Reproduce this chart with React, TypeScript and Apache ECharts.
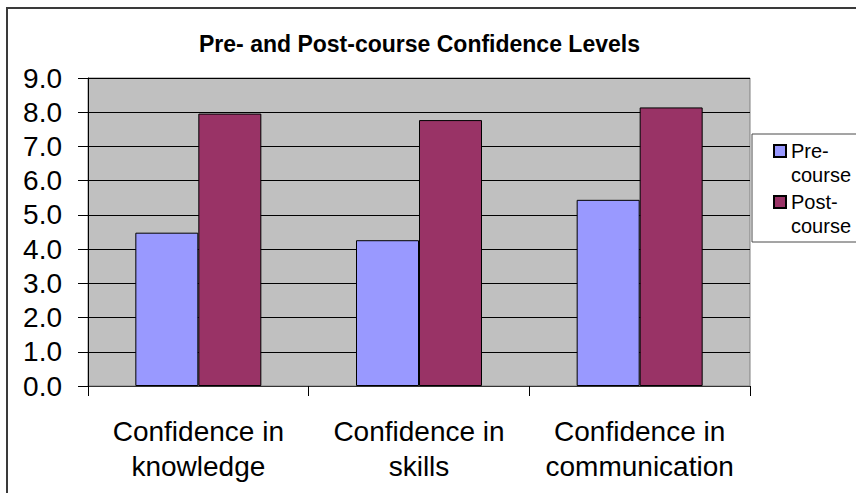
import React, { useEffect, useRef } from 'react';
import * as echarts from 'echarts';

const categories = ['Confidence in\nknowledge', 'Confidence in\nskills', 'Confidence in\ncommunication'];
const seriesNames = ['Pre-course', 'Post-course'];
const preCourse = [4.48, 4.26, 5.44];
const postCourse = [7.96, 7.77, 8.14];
const chartTitle = 'Pre- and Post-course Confidence Levels';
const yMin = 0;
const yMax = 9;
const yInterval = 1;

const FONT = '"Liberation Sans", Arial, sans-serif';

export default function App() {
  const ref = useRef<HTMLDivElement>(null);
  useEffect(() => {
    if (!ref.current) return;
    const chart = echarts.init(ref.current, null, { renderer: 'svg' });
    chart.setOption({
      animation: false,
      backgroundColor: '#ffffff',
      textStyle: { fontFamily: FONT },
      title: {
        text: chartTitle,
        left: 199,
        top: 32,
        padding: 0,
        textStyle: { fontFamily: FONT, fontSize: 23, fontWeight: 'bold', color: '#000' },
      },
      graphic: [
        {
          type: 'rect',
          shape: { x: 7, y: 8, width: 870, height: 510 },
          style: { fill: 'none', stroke: '#3a3a3a', lineWidth: 2 },
          silent: true,
        },
      ],
      legend: {
        orient: 'vertical',
        left: 752,
        top: 134,
        padding: [4, 14, 3, 21],
        itemGap: 1,
        itemWidth: 12,
        itemHeight: 48,
        icon: 'path://M0,0M12,48M0,6L12,6L12,18L0,18Z',
        backgroundColor: '#ffffff',
        borderColor: '#4a4a4a',
        borderWidth: 1,
        borderRadius: 0,
        selectedMode: false,
        formatter: (name: string) => name.replace('-', '-\n'),
        textStyle: { fontFamily: FONT, fontSize: 20, lineHeight: 24, color: '#000' },
        data: seriesNames,
      },
      grid: {
        left: 88,
        top: 78,
        right: 106,
        bottom: 107,
        show: true,
        backgroundColor: '#C0C0C0',
        borderColor: '#808080',
        borderWidth: 1,
        containLabel: false,
      },
      xAxis: {
        type: 'category',
        data: categories,
        axisLine: { show: true, lineStyle: { color: '#333', width: 1 } },
        axisTick: { show: true, alignWithLabel: false, length: 10, lineStyle: { color: '#000' } },
        axisLabel: {
          interval: 0,
          margin: 28,
          fontFamily: FONT,
          fontSize: 28,
          lineHeight: 35,
          color: '#000',
        },
        splitLine: { show: false },
      },
      yAxis: {
        type: 'value',
        min: yMin,
        max: yMax,
        interval: yInterval,
        axisLine: { show: true, lineStyle: { color: '#000', width: 1 } },
        axisTick: { show: true, length: 10, lineStyle: { color: '#000' } },
        axisLabel: {
          margin: 26,
          fontFamily: FONT,
          fontSize: 28,
          color: '#000',
          formatter: (v: number) => v.toFixed(1),
        },
        splitLine: { show: true, lineStyle: { color: '#000', width: 1 } },
      },
      series: [
        {
          name: seriesNames[0],
          type: 'bar',
          data: preCourse,
          barWidth: 63,
          barGap: '0%',
          itemStyle: { color: '#9999FF', borderColor: '#000', borderWidth: 1 },
        },
        {
          name: seriesNames[1],
          type: 'bar',
          data: postCourse,
          barWidth: 63,
          barGap: '0%',
          itemStyle: { color: '#993366', borderColor: '#000', borderWidth: 1 },
        },
      ],
    });
    return () => chart.dispose();
  }, []);
  return (
    <div
      ref={ref}
      style={{ position: 'fixed', left: 0, top: 0, width: 856, height: 493 }}
    />
  );
}
